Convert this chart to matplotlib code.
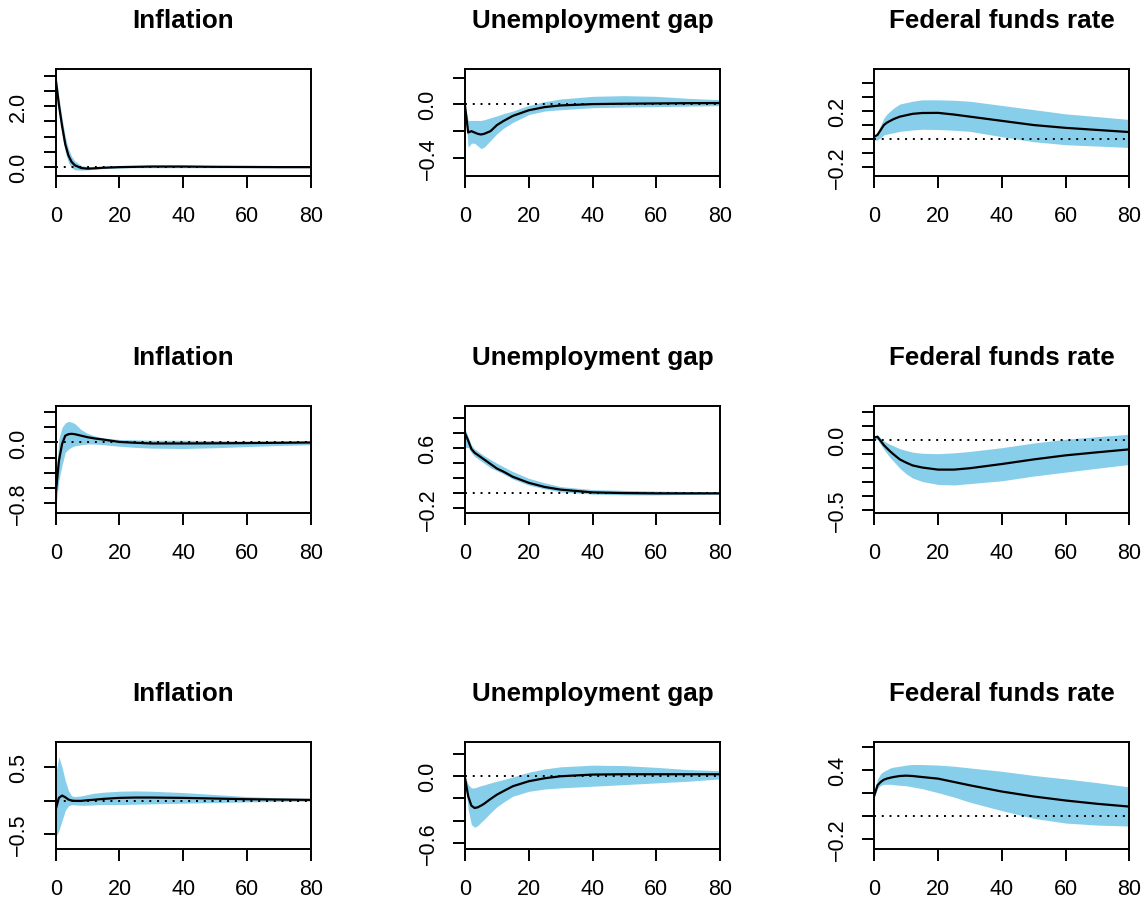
import matplotlib
matplotlib.use("Agg")
import matplotlib.pyplot as plt

plt.rcParams['font.family'] = ['Liberation Sans', 'DejaVu Sans']

horizon = [0, 1, 2, 3, 4, 5, 6, 8, 10, 12, 15, 20, 25, 30, 40, 50, 60, 70, 80]

titles = ["Inflation", "Unemployment gap", "Federal funds rate"]

# row 1
infl_1_med = [2.9, 2.05, 1.35, 0.75, 0.38, 0.17, 0.06, -0.03, -0.05, -0.04, -0.02, 0.0, 0.01, 0.02, 0.02, 0.01, 0.005, 0.0, 0.0]
infl_1_lo = [2.75, 1.85, 1.1, 0.5, 0.15, -0.02, -0.09, -0.1, -0.09, -0.07, -0.05, -0.03, -0.02, -0.02, -0.02, -0.02, -0.02, -0.02, -0.02]
infl_1_hi = [3.05, 2.3, 1.6, 1.0, 0.6, 0.35, 0.2, 0.05, 0.01, 0.0, 0.02, 0.04, 0.05, 0.06, 0.06, 0.05, 0.04, 0.03, 0.02]

unemp_1_med = [-0.01, -0.21, -0.2, -0.21, -0.22, -0.225, -0.22, -0.2, -0.155, -0.125, -0.086, -0.044, -0.02, -0.008, 0.002, 0.005, 0.007, 0.009, 0.01]
unemp_1_lo = [-0.04, -0.32, -0.29, -0.29, -0.31, -0.33, -0.32, -0.27, -0.22, -0.18, -0.135, -0.076, -0.05, -0.04, -0.025, -0.02, -0.017, -0.013, -0.01]
unemp_1_hi = [0.0, -0.12, -0.12, -0.12, -0.12, -0.12, -0.115, -0.1, -0.086, -0.07, -0.05, -0.008, 0.02, 0.04, 0.06, 0.065, 0.06, 0.045, 0.035]

ffr_1_med = [0.017, 0.03, 0.065, 0.10, 0.118, 0.13, 0.142, 0.16, 0.17, 0.18, 0.186, 0.187, 0.175, 0.16, 0.13, 0.10, 0.08, 0.065, 0.05]
ffr_1_lo = [-0.007, -0.007, 0.01, 0.03, 0.035, 0.04, 0.045, 0.055, 0.06, 0.065, 0.07, 0.068, 0.063, 0.055, 0.017, -0.019, -0.04, -0.05, -0.06]
ffr_1_hi = [0.02, 0.05, 0.1, 0.15, 0.18, 0.2, 0.22, 0.25, 0.26, 0.27, 0.28, 0.28, 0.277, 0.27, 0.24, 0.21, 0.18, 0.16, 0.14]

# row 2
infl_2_med = [-0.69, -0.245, -0.02, 0.09, 0.11, 0.115, 0.11, 0.09, 0.07, 0.055, 0.038, 0.007, -0.004, -0.013, -0.013, -0.011, -0.008, -0.004, 0.0]
infl_2_lo = [-0.87, -0.5, -0.3, -0.13, -0.09, -0.06, -0.045, -0.03, -0.02, -0.02, -0.03, -0.05, -0.065, -0.075, -0.08, -0.07, -0.055, -0.04, -0.03]
infl_2_hi = [-0.55, 0.05, 0.2, 0.26, 0.28, 0.27, 0.25, 0.17, 0.12, 0.09, 0.06, 0.04, 0.035, 0.03, 0.03, 0.025, 0.02, 0.018, 0.015]

unemp_2_med = [0.80, 0.70, 0.59, 0.54, 0.51, 0.48, 0.45, 0.39, 0.33, 0.29, 0.22, 0.14, 0.085, 0.05, 0.013, 0.004, 0.0, 0.0, 0.0]
unemp_2_lo = [0.61, 0.61, 0.54, 0.49, 0.46, 0.43, 0.40, 0.34, 0.30, 0.26, 0.19, 0.11, 0.06, 0.02, -0.01, -0.02, -0.02, -0.015, -0.01]
unemp_2_hi = [0.86, 0.75, 0.64, 0.59, 0.56, 0.53, 0.50, 0.45, 0.40, 0.355, 0.29, 0.2, 0.14, 0.09, 0.05, 0.04, 0.03, 0.025, 0.02]

ffr_2_med = [0.02, 0.025, -0.005, -0.035, -0.058, -0.08, -0.1, -0.137, -0.16, -0.18, -0.195, -0.21, -0.21, -0.2, -0.17, -0.137, -0.108, -0.086, -0.065]
ffr_2_lo = [0.007, 0.005, -0.03, -0.065, -0.095, -0.125, -0.15, -0.2, -0.24, -0.27, -0.295, -0.316, -0.32, -0.31, -0.29, -0.256, -0.228, -0.2, -0.173]
ffr_2_hi = [0.03, 0.04, 0.015, -0.005, -0.018, -0.03, -0.04, -0.06, -0.073, -0.085, -0.093, -0.096, -0.09, -0.08, -0.053, -0.02, 0.007, 0.026, 0.043]

# row 3
infl_3_med = [-0.135, 0.04, 0.075, 0.05, 0.015, 0.0, -0.005, -0.005, 0.005, 0.012, 0.025, 0.04, 0.045, 0.045, 0.04, 0.03, 0.02, 0.015, 0.01]
infl_3_lo = [-0.55, -0.45, -0.3, -0.15, -0.08, -0.06, -0.065, -0.07, -0.07, -0.065, -0.06, -0.06, -0.055, -0.05, -0.04, -0.03, -0.02, -0.015, -0.01]
infl_3_hi = [0.4, 0.66, 0.5, 0.3, 0.15, 0.07, 0.06, 0.07, 0.09, 0.11, 0.125, 0.14, 0.145, 0.14, 0.12, 0.09, 0.06, 0.04, 0.03]

unemp_3_med = [-0.015, -0.18, -0.265, -0.286, -0.28, -0.265, -0.248, -0.205, -0.166, -0.135, -0.09, -0.045, -0.018, 0.0, 0.015, 0.018, 0.018, 0.018, 0.018]
unemp_3_lo = [-0.03, -0.3, -0.435, -0.46, -0.445, -0.415, -0.39, -0.33, -0.276, -0.235, -0.18, -0.136, -0.115, -0.105, -0.09, -0.075, -0.06, -0.045, -0.024]
unemp_3_hi = [0.0, -0.075, -0.105, -0.105, -0.095, -0.085, -0.078, -0.06, -0.045, -0.03, -0.006, 0.036, 0.066, 0.085, 0.1, 0.096, 0.08, 0.06, 0.05]

ffr_3_med = [0.176, 0.264, 0.293, 0.313, 0.323, 0.33, 0.336, 0.345, 0.348, 0.345, 0.336, 0.322, 0.293, 0.264, 0.21, 0.167, 0.132, 0.103, 0.079]
ffr_3_lo = [0.16, 0.235, 0.264, 0.273, 0.273, 0.273, 0.27, 0.264, 0.26, 0.25, 0.235, 0.2, 0.162, 0.117, 0.044, -0.023, -0.064, -0.082, -0.09]
ffr_3_hi = [0.205, 0.32, 0.366, 0.386, 0.4, 0.415, 0.422, 0.43, 0.44, 0.445, 0.445, 0.44, 0.43, 0.415, 0.386, 0.35, 0.32, 0.287, 0.25]

# y axis ticks, and which of them carry a label
yticks = [
    [0.0, 0.5, 1.0, 1.5, 2.0, 2.5, 3.0], [-0.4, -0.2, 0.0, 0.2], [-0.2, -0.1, 0.0, 0.1, 0.2, 0.3, 0.4],
    [-0.8, -0.6, -0.4, -0.2, 0.0, 0.2, 0.4], [-0.2, 0.0, 0.2, 0.4, 0.6, 0.8, 1.0], [-0.5, -0.4, -0.3, -0.2, -0.1, 0.0, 0.1, 0.2],
    [-0.5, 0.0, 0.5], [-0.6, -0.4, -0.2, 0.0, 0.2], [-0.2, 0.0, 0.2, 0.4, 0.6],
]
ylabeled = [
    [0.0, 2.0], [-0.4, 0.0], [-0.2, 0.2],
    [-0.8, 0.0], [-0.2, 0.6], [-0.5, 0.0],
    [-0.5, 0.5], [-0.6, 0.0], [-0.2, 0.4],
]
ylims = [
    (-0.275, 3.22), (-0.531, 0.264), (-0.26, 0.50),
    (-0.933, 0.48), (-0.258, 1.156), (-0.519, 0.243),
    (-0.725, 0.875), (-0.654, 0.306), (-0.288, 0.638),
]

panels = [
    (infl_1_med, infl_1_lo, infl_1_hi), (unemp_1_med, unemp_1_lo, unemp_1_hi), (ffr_1_med, ffr_1_lo, ffr_1_hi),
    (infl_2_med, infl_2_lo, infl_2_hi), (unemp_2_med, unemp_2_lo, unemp_2_hi), (ffr_2_med, ffr_2_lo, ffr_2_hi),
    (infl_3_med, infl_3_lo, infl_3_hi), (unemp_3_med, unemp_3_lo, unemp_3_hi), (ffr_3_med, ffr_3_lo, ffr_3_hi),
]

W, H = 1147, 903
fig = plt.figure(figsize=(W / 100, H / 100), dpi=100)

col_left = [55.7, 465.0, 874.3]
row_top = [70.0, 407.3, 743.3]
box_w, box_h = 255.0, 106.5


def fmt(v):
    return ("%.1f" % v).replace("-", "\u2212")


for i, (med, lo, hi) in enumerate(panels):
    r, c = divmod(i, 3)
    ax = fig.add_axes([col_left[c] / W, 1 - (row_top[r] + box_h) / H, box_w / W, box_h / H])
    ax.fill_between(horizon, lo, hi, color='#87CEEB', linewidth=0)
    ax.plot([0, 80], [0, 0], color='black', linewidth=1.4, linestyle=(0, (1, 3)))
    ax.plot(horizon, med, color='black', linewidth=1.6)
    ax.set_xlim(0, 80)
    ax.set_ylim(*ylims[i])
    ax.set_xticks([0, 20, 40, 60, 80])
    ax.set_xticklabels(['0', '20', '40', '60', '80'])
    ax.set_yticks(yticks[i])
    ax.set_yticklabels([fmt(t) if t in ylabeled[i] else '' for t in yticks[i]])
    for s in ax.spines.values():
        s.set_linewidth(1.4)
    ax.tick_params(axis='both', direction='out', length=8.6, width=1.4, labelsize=15.5)
    ax.tick_params(axis='x', pad=12.5)
    ax.tick_params(axis='y', pad=10.5)
    for lab in ax.get_yticklabels():
        lab.set_rotation(90)
        lab.set_va('center')
    ax.set_title(titles[c], fontsize=18.7, fontweight='bold', pad=30.5)

fig.savefig('out.png', dpi=100)
